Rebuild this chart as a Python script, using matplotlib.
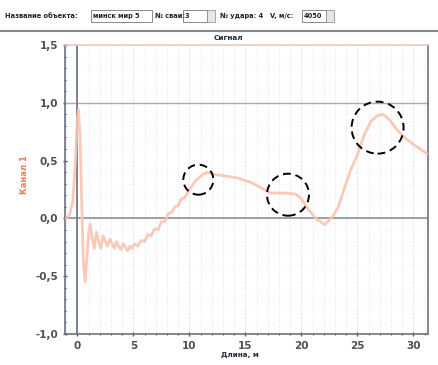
import numpy as np
import matplotlib.pyplot as plt
from matplotlib.patches import Ellipse, Rectangle
from matplotlib.ticker import MultipleLocator, FuncFormatter

# signal trace
dist = [-1.0, -0.7, -0.4, -0.2, 0.0, 0.1, 0.25, 0.4, 0.55, 0.7, 0.85, 1.0, 1.15,
        1.3, 1.5, 1.7, 1.9, 2.1, 2.3, 2.5, 2.7, 2.9, 3.1, 3.3, 3.5, 3.7, 3.9,
        4.1, 4.3, 4.5, 4.7, 4.9, 5.1, 5.4, 5.7, 6.0, 6.3, 6.6, 6.9, 7.2, 7.5,
        7.8, 8.1, 8.4, 8.7, 9.0, 9.3, 9.6, 10.0, 10.6, 11.2, 11.6, 12.2, 13.0,
        14.3, 15.5, 16.5, 17.2, 18.5, 19.5, 20.0, 20.6, 21.3, 22.1, 22.8, 23.3,
        23.8, 24.4, 25.0, 25.6, 26.2, 26.8, 27.3, 27.9, 28.5, 29.2, 30.0, 30.6,
        31.2]
signal = [0.0, 0.03, 0.15, 0.45, 0.85, 0.94, 0.7, 0.1, -0.4, -0.55, -0.35, -0.12,
          -0.05, -0.15, -0.26, -0.12, -0.2, -0.26, -0.15, -0.2, -0.24, -0.18,
          -0.22, -0.26, -0.2, -0.24, -0.27, -0.22, -0.25, -0.28, -0.24, -0.26,
          -0.22, -0.24, -0.19, -0.2, -0.14, -0.15, -0.09, -0.1, -0.03, -0.03,
          0.04, 0.05, 0.1, 0.11, 0.17, 0.18, 0.25, 0.33, 0.38, 0.40, 0.38, 0.37,
          0.35, 0.31, 0.26, 0.22, 0.22, 0.21, 0.17, 0.08, 0.0, -0.055, 0.02, 0.1,
          0.25, 0.42, 0.55, 0.72, 0.84, 0.89, 0.90, 0.85, 0.77, 0.7, 0.64, 0.6,
          0.56]

# marked spots: centre x, centre y, radius in px
marks_x = [10.8, 18.8, 26.8]
marks_y = [0.335, 0.205, 0.785]
marks_r = [15, 21, 26]

y_ticks = [-1.0, -0.5, 0.0, 0.5, 1.0, 1.5]
x_ticks = [0, 5, 10, 15, 20, 25, 30]

W, H = 439, 365
fig = plt.figure(figsize=(W / 100, H / 100), dpi=100)

# top toolbar
fig.add_artist(plt.Line2D([0, 1], [1 - 31 / H, 1 - 31 / H], color="#888888", lw=1.5))
small = {"fontsize": 4.8, "color": "#222222", "va": "center", "fontweight": "bold"}
ty = 1 - 16 / H
fig.text(5 / W, ty, "Название объекта:", **small)
for x0, x1, txt in [(91, 152, "минск мир 5"), (183, 207, "3"), (302, 326, "4050")]:
    fig.add_artist(Rectangle((x0 / W, ty - 6 / H), (x1 - x0) / W, 12 / H,
                             transform=fig.transFigure, fc="white", ec="#777777", lw=0.6))
    fig.text((x0 + 2) / W, ty, txt, **small)
for x0 in [207, 326]:
    fig.add_artist(Rectangle((x0 / W, ty - 6 / H), 8 / W, 12 / H,
                             transform=fig.transFigure, fc="#e6e6e6", ec="#888888", lw=0.5))
fig.text(155 / W, ty, "№ сваи:", **small)
fig.text(220 / W, ty, "№ удара: 4", **small)
fig.text(270 / W, ty, "V, м/с:", **small)

ax = fig.add_axes([65 / W, 31 / H, 363 / W, 289 / H])
ax.set_xlim(-1.1, 31.3)
ax.set_ylim(-1.0, 1.5)

ax.plot(dist, signal, color="#f9c4b2", lw=2.0, alpha=0.9, zorder=3)

ax.axhline(0, color="#8a8f99", lw=1.2, zorder=2)
ax.axhline(1.0, color="#a8acb3", lw=1.0, zorder=2)
ax.axvline(0, color="#7d828c", lw=1.4, zorder=2)

ax.xaxis.set_major_locator(MultipleLocator(5))
ax.xaxis.set_minor_locator(MultipleLocator(1))
ax.yaxis.set_major_locator(MultipleLocator(0.5))
ax.yaxis.set_minor_locator(MultipleLocator(0.1))
ax.grid(which="minor", axis="x", color="#d8dde6", lw=0.6, ls=":")
ax.grid(which="major", axis="x", color="#cfd4dd", lw=0.7, ls=":")
ax.grid(which="minor", axis="y", color="#eef0f4", lw=0.5, ls=":")

comma = FuncFormatter(lambda v, p: f"{v:.1f}".replace(".", ","))
ax.yaxis.set_major_formatter(comma)
ax.set_xticks(x_ticks)
ax.set_yticks(y_ticks)
ax.tick_params(axis="both", which="major", labelsize=7.5, colors="#555a66",
               length=3, width=1, direction="inout")
ax.tick_params(axis="both", which="minor", length=2, width=0.8, colors="#555a66",
               direction="inout")
for lab in ax.get_xticklabels() + ax.get_yticklabels():
    lab.set_fontweight("bold")
    lab.set_color("#4a4f5a")
for s in ["left", "bottom", "right"]:
    ax.spines[s].set_color("#6d727c")
    ax.spines[s].set_linewidth(1.2)
ax.spines["top"].set_color("#e4c8c0")
ax.spines["top"].set_linewidth(1.2)

# dashed circles around the marked spots
xs = 363 / (31.3 + 1.1)
ys = 289 / 2.5
for cx, cy, r in zip(marks_x, marks_y, marks_r):
    ax.add_patch(Ellipse((cx, cy), 2 * r / xs, 2 * r / ys, fill=False,
                         ec="black", lw=1.4, ls=(0, (4, 2.5)), zorder=5))

fig.text(228 / W, 1 - 38 / H, "Сигнал", fontsize=5.2, fontweight="bold",
         color="#222a3a", ha="center", va="center")
fig.text(240 / W, 1 - 355 / H, "Длина, м", fontsize=5.2, fontweight="bold",
         color="#222a3a", ha="center", va="center")
fig.text(25 / W, 1 - 175 / H, "Канал 1", fontsize=6, fontweight="bold",
         color="#f07a5a", rotation=90, ha="center", va="center")

fig.savefig("out.png", dpi=100)
